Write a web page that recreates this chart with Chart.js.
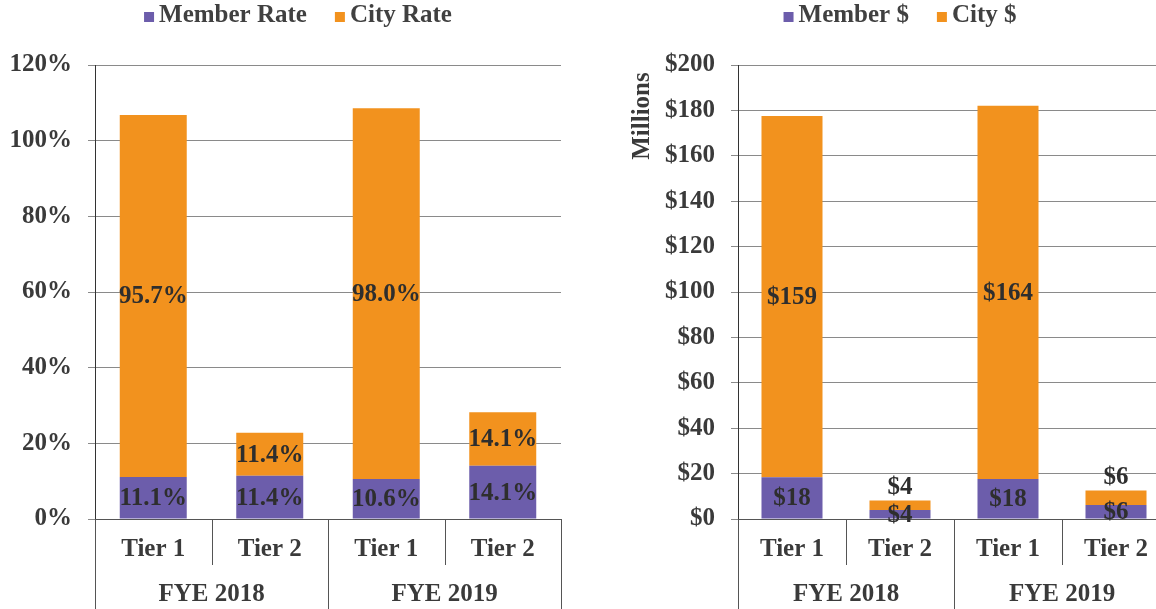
<!DOCTYPE html>
<html><head><meta charset="utf-8">
<script src="https://cdn.jsdelivr.net/npm/chart.js@4/dist/chart.umd.min.js"></script>
<style>
html,body{margin:0;padding:0;background:#fff;overflow:hidden;width:1156px;height:609px;position:relative;}
#w1{position:absolute;left:0;top:0;width:600px;height:609px;}
#w2{position:absolute;left:600px;top:0;width:580px;height:609px;}
</style></head><body>
<div id="w1"><canvas id="c1"></canvas></div>
<div id="w2"><canvas id="c2"></canvas></div>
<script>
const tiers = ['Tier 1', 'Tier 2', 'Tier 1', 'Tier 2'];
const years = ['FYE 2018', 'FYE 2019'];
const memberRate = [11.1, 11.4, 10.6, 14.1];
const cityRate = [95.7, 11.4, 98.0, 14.1];
const memberDollars = [18.4, 4.0, 17.6, 6.2];
const cityDollars = [159.1, 4.2, 164.4, 6.4];

const FONT = '"Liberation Serif", "Times New Roman", serif';
const FS = 25;
const PURPLE = '#6c5dab';
const ORANGE = '#f2921e';
const TXT = '#3a3a3a';

const groupAxis = {
  id: 'groupAxis',
  afterDraw(chart) {
    const ctx = chart.ctx, a = chart.chartArea, H = chart.height;
    const step = (a.right - a.left) / tiers.length;
    ctx.save();
    ctx.strokeStyle = '#555';
    ctx.lineWidth = 1;
    for (let i = 0; i <= tiers.length; i++) {
      const px = Math.round(a.left + step * i) + 0.5;
      const long = i % 2 === 0;
      ctx.beginPath();
      ctx.moveTo(px, a.bottom);
      ctx.lineTo(px, long ? H : a.bottom + 46);
      ctx.stroke();
    }
    ctx.font = 'bold ' + FS + 'px ' + FONT;
    ctx.fillStyle = TXT;
    ctx.textAlign = 'center';
    ctx.textBaseline = 'middle';
    years.forEach((y, g) => {
      ctx.fillText(y, a.left + step * (2 * g + 1), a.bottom + 76);
    });
    ctx.restore();
  }
};

function barLabels(fmt) {
  return {
    id: 'barLabels',
    afterDatasetsDraw(chart) {
      const ctx = chart.ctx;
      ctx.save();
      ctx.font = 'bold ' + FS + 'px ' + FONT;
      ctx.fillStyle = '#2e2e2e';
      ctx.textAlign = 'center';
      ctx.textBaseline = 'middle';
      const n = chart.data.datasets.length;
      chart.data.datasets.forEach((ds, di) => {
        const meta = chart.getDatasetMeta(di);
        meta.data.forEach((bar, i) => {
          let y = (bar.y + bar.base) / 2;
          const h = Math.abs(bar.base - bar.y);
          if (di === n - 1 && h < 22) y = bar.y - 14;
          ctx.fillText(fmt(Number(ds.data[i])), bar.x, y + 1);
        });
      });
      ctx.restore();
    }
  };
}

function customLegend(centerX, axisTitle) {
  return {
    id: 'customLegend',
    afterDraw(chart) {
      const ctx = chart.ctx;
      const ds = chart.data.datasets;
      ctx.save();
      ctx.font = 'bold ' + FS + 'px ' + FONT;
      ctx.textBaseline = 'middle';
      ctx.textAlign = 'left';
      const box = 10, gap = 5, itemGap = 28;
      const widths = ds.map(d => box + gap + ctx.measureText(d.label).width);
      const total = widths.reduce((s, w) => s + w, 0) + itemGap * (ds.length - 1);
      let x = centerX - total / 2;
      const y = 16;
      ds.forEach((d, i) => {
        ctx.fillStyle = d.backgroundColor;
        ctx.fillRect(x, y - box / 2 + 1, box, box);
        ctx.fillStyle = '#404040';
        ctx.fillText(d.label, x + box + gap, y);
        x += widths[i] + itemGap;
      });
      if (axisTitle) {
        ctx.translate(43, 116);
        ctx.rotate(-Math.PI / 2);
        ctx.textAlign = 'center';
        ctx.fillStyle = TXT;
        ctx.fillText(axisTitle, 0, 0);
      }
      ctx.restore();
    }
  };
}

function makeChart(id, l1, l2, d1, d2, max, tickFmt, lblFmt, yWidth, padRight, barPct, legendX, title) {
  return new Chart(document.getElementById(id), {
    type: 'bar',
    data: {
      labels: tiers,
      datasets: [
        { label: l1, data: d1, backgroundColor: PURPLE, barPercentage: barPct, categoryPercentage: 1 },
        { label: l2, data: d2, backgroundColor: ORANGE, barPercentage: barPct, categoryPercentage: 1 }
      ]
    },
    options: {
      responsive: true,
      maintainAspectRatio: false,
      animation: false,
      layout: { padding: { left: 0, right: padRight, top: 65, bottom: 0 } },
      plugins: {
        legend: { display: false },
        tooltip: { enabled: false }
      },
      scales: {
        x: {
          stacked: true,
          grid: { display: false, drawTicks: false },
          border: { display: true, color: '#555' },
          ticks: { color: TXT, padding: 16, font: { family: FONT, size: FS, weight: 'bold' }, maxRotation: 0 },
          afterFit(s) { s.height = 90; }
        },
        y: {
          stacked: true,
          min: 0, max: max,
          ticks: { stepSize: 20, color: TXT, padding: 16, font: { family: FONT, size: FS, weight: 'bold' }, callback: tickFmt },
          grid: { color: '#8a8a8a', lineWidth: 1, tickLength: 7, drawTicks: true },
          border: { display: true, color: '#333' },
          afterFit(s) { s.width = yWidth; }
        }
      }
    },
    plugins: [groupAxis, barLabels(lblFmt), customLegend(legendX, title)]
  });
}

makeChart('c1', 'Member Rate', 'City Rate', memberRate, cityRate, 120,
  v => v + '%', v => v.toFixed(1) + '%', 95, 39, 0.575, 298, null);
makeChart('c2', 'Member $', 'City $', memberDollars, cityDollars, 200,
  v => '$' + v, v => '$' + Math.round(v), 138, 10, 0.565, 300, 'Millions');
</script>
</body></html>
